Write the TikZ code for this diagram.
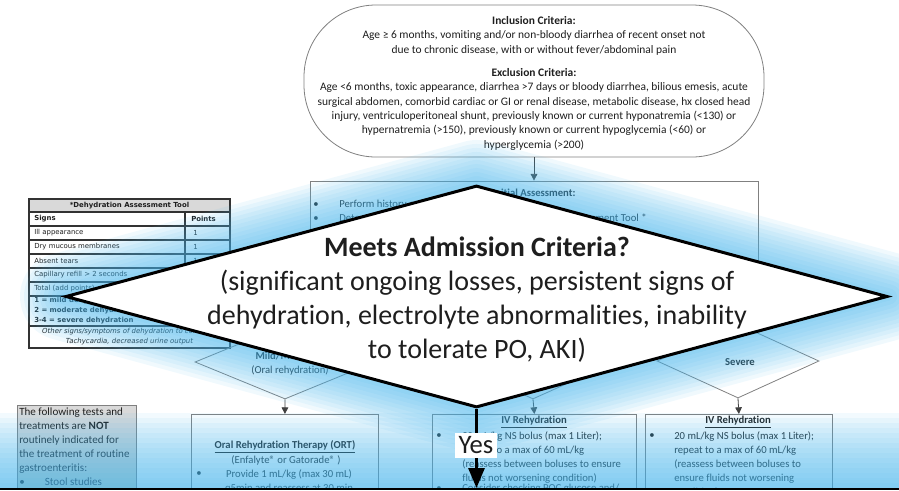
\documentclass[tikz,border=0pt]{standalone}
\usepackage{fontspec}
\setmainfont{Carlito}[Ligatures=NoCommon]
\newfontfamily\tabfont{DejaVu Sans}
\usetikzlibrary{arrows.meta,shapes.geometric}

\definecolor{glowblue}{RGB}{70,180,235}
\definecolor{ink}{RGB}{30,30,30}
\definecolor{edgegray}{RGB}{128,128,128}
\definecolor{conngray}{RGB}{64,64,64}
\definecolor{notegray}{RGB}{217,217,217}
\definecolor{tabline}{RGB}{50,50,50}

\pgfdeclarelayer{chart}
\pgfdeclarelayer{glow}
\pgfsetlayers{chart,glow,main}

\begin{document}
\begin{tikzpicture}[x=0.75pt,y=-0.75pt,
  every node/.style={inner sep=0pt, text=ink},
  box/.style={draw=edgegray, line width=0.6pt},
  choice/.style={shape=diamond, draw=edgegray, line width=0.6pt, shape aspect=2.4},
  small/.style={font=\fontsize{8}{10.5}\selectfont},
  crittxt/.style={font=\fontsize{8.6}{10.8}\selectfont},
  tabtxt/.style={font=\tabfont\fontsize{5.2}{7.5}\selectfont},
  flow/.style={draw=conngray, line width=0.6pt, -{Triangle[length=5pt,width=5pt]}},
  glowline/.style={glowblue, opacity=0.077, line join=round}
]
\useasboundingbox (0,0) rectangle (899,490);

% ---------------- flowchart underneath ----------------
\begin{pgfonlayer}{chart}
\begin{scope}
\clip (0,0) rectangle (899,488);

% inclusion / exclusion criteria
\node[box, rounded corners=54pt, minimum width=345pt, minimum height=114pt] (incl) at (534,81) {};
\node[crittxt, align=center, anchor=north] (inclText) at (534,16)
  {\textbf{Inclusion Criteria:}\\
   Age ≥ 6 months, vomiting and/or non-bloody diarrhea of recent onset not\\
   due to chronic disease, with or without fever/abdominal pain};
\node[crittxt, align=center, anchor=north] (exclText) at (534,68)
  {\textbf{Exclusion Criteria:}\\
   Age <6 months, toxic appearance, diarrhea >7 days or bloody diarrhea, bilious emesis, acute\\
   surgical abdomen, comorbid cardiac or GI or renal disease, metabolic disease, hx closed head\\
   injury, ventriculoperitoneal shunt, previously known or current hyponatremia (<130) or\\
   hypernatremia (>150), previously known or current hypoglycemia (<60) or\\
   hyperglycemia (>200)};

% initial assessment
\node[box, minimum width=336pt, minimum height=89.25pt] (init) at (534,240.5) {};
\node[small] (initTitle) at (534,193) {\textbf{Initial Assessment:}};
\node[small, anchor=west] (initB1) at (313,205) {•};
\node[small, anchor=west] (initL1) at (339,205) {Perform history and physical exam};
\node[small, anchor=west] (initB2) at (313,219) {•};
\node[small, anchor=west] (initL2) at (339,219) {Determine degree of dehydration using Dehydration Assessment Tool *};
\draw[flow] (incl.south) -- (init.north);

% dehydration assessment tool
\fill[notegray] (29,199) rectangle (230,212);
\draw[tabline, line width=0.8pt] (29,199) rectangle (230,348);
\foreach \yy in {212,226,240,254,268,282,296,326}
  \draw[tabline, line width=0.9pt] (29,\yy) -- (230,\yy);
\draw[tabline, line width=0.8pt] (185,212) -- (185,296);
\node[tabtxt] (tabHead) at (129.5,205.5) {\bfseries *Dehydration Assessment Tool};
\node[tabtxt, anchor=west] (tabSigns) at (34,219) {\bfseries Signs};
\node[tabtxt, anchor=west] (tabPoints) at (191,219) {\bfseries Points};
\node[tabtxt, anchor=west] (tabS1) at (34,233) {Ill appearance};
\node[tabtxt, anchor=west] (tabP1) at (193,233) {1};
\node[tabtxt, anchor=west] (tabS2) at (34,247) {Dry mucous membranes};
\node[tabtxt, anchor=west] (tabP2) at (193,247) {1};
\node[tabtxt, anchor=west] (tabS3) at (34,261) {Absent tears};
\node[tabtxt, anchor=west] (tabP3) at (193,261) {1};
\node[tabtxt, anchor=west] (tabS4) at (34,275) {Capillary refill > 2 seconds};
\node[tabtxt, anchor=west] (tabP4) at (193,275) {1};
\node[tabtxt, anchor=west] (tabTot) at (34,289) {Total (add points)};
\node[tabtxt, anchor=west, align=left] (tabScale) at (34,311)
  {\bfseries 1 = mild dehydration\\\bfseries 2 = moderate dehydration\\\bfseries 3-4 = severe dehydration};
\node[tabtxt, align=center] (tabOther) at (129.5,337)
  {\itshape Other signs/symptoms of dehydration to consider:\\\itshape Tachycardia, decreased urine output};

% severity decisions
\node[choice, minimum width=135pt, minimum height=55.5pt] (mild) at (285,362) {};
\node[choice, minimum width=123pt, minimum height=55.5pt] (mod) at (533,362) {};
\node[choice, minimum width=121.5pt, minimum height=55.5pt] (sev) at (738,361) {};
\node[small, align=center] (mildText) at (290,363.5) {\textbf{Mild/Moderate}\\(Oral rehydration)};
\node[small] (sevText) at (740,362) {\textbf{Severe}};
\draw[flow] (init.south) -| (mild.north);
\draw[flow] (init.south) -- (mod.north);
\draw[flow] (init.south) -| (sev.north);

% note on tests and treatments
\node[draw=edgegray, line width=0.6pt, fill=notegray, anchor=north west,
      minimum width=89.25pt, minimum height=90pt] (note) at (17,405) {};
\node[anchor=north west, align=left, font=\fontsize{8.3}{10.5}\selectfont] (noteText) at (19,408)
  {The following tests and\\
   treatments are \textbf{NOT}\\
   routinely indicated for\\
   the treatment of routine\\
   gastroenteritis:\\
   •\hspace{15pt}Stool studies};

% treatment boxes
\node[box, anchor=north west, minimum width=140.25pt, minimum height=90pt] (ort) at (191,414) {};
\node[box, anchor=north west, minimum width=153pt, minimum height=90pt] (ivMod) at (432,414) {};
\node[box, anchor=north west, minimum width=140.25pt, minimum height=90pt] (ivSev) at (645,414) {};
\draw[flow] (mild.south) -- (ort.north);
\draw[flow] (mod.south) -- (ivMod.north);
\draw[flow] (sev.south) -- (ivSev.north);

\node[small, align=center] (ortTitle) at (285,447)
  {\underline{\textbf{Oral Rehydration Therapy (ORT)}}};
\node[small] (ortSub) at (286,460) {(Enfalyte® or Gatorade® )};
\node[small] (ortB) at (199,474) {•};
\node[small, align=center, anchor=north] (ortText) at (289,469)
  {Provide 1 mL/kg (max 30 mL)\\q5min and reassess at 30 min};

\node[small] (ivModTitle) at (534,422) {\underline{\textbf{IV Rehydration}}};
\node[small] (ivModB) at (439,436) {•};
\node[small, align=left, anchor=north west] (ivModText) at (462,431)
  {20 mL/kg NS bolus (max 1 Liter);\\
   repeat to a max of 60 mL/kg\\
   (reassess between boluses to ensure\\
   fluids not worsening condition)};
\node[small] (ivModB2) at (439,489) {•};
\node[small, anchor=west] (ivModText2) at (462,489) {Consider checking POC glucose and/};

\node[small] (ivSevTitle) at (738,422) {\underline{\textbf{IV Rehydration}}};
\node[small] (ivSevB) at (652,436) {•};
\node[small, align=left, anchor=north west] (ivSevText) at (674,431)
  {20 mL/kg NS bolus (max 1 Liter);\\
   repeat to a max of 60 mL/kg\\
   (reassess between boluses to\\
   ensure fluids not worsening\\
   condition)};
\end{scope}
\end{pgfonlayer}

% ---------------- admission decision ----------------
\node[shape=diamond, draw=black, fill=white, line width=2.25pt,
      minimum width=616.5pt, minimum height=166.5pt] (crit) at (476.5,296.5) {};

\begin{pgfonlayer}{glow}
\foreach \w [evaluate=\w as \lw using \w*0.75] in {8,16,...,88}
  \draw[glowline, line width=\lw pt] (crit.north) -- (crit.east) -- (crit.south) -- (crit.west) -- cycle;
\foreach \i in {1,...,15}
  \fill[glowblue, opacity=0.07] (0,{488-5*\i}) rectangle (899,488);
\end{pgfonlayer}

\node[align=center, font=\fontsize{21}{25.5}\selectfont] (critText) at (477,300)
  {\textbf{Meets Admission Criteria?}\\
   (significant ongoing losses, persistent signs of\\
   dehydration, electrolyte abnormalities, inability\\
   to tolerate PO, AKI)};

\coordinate (yesEnd) at (476.5,488);
\draw[line width=2.25pt, -{Triangle[length=15pt,width=12pt]}] (crit.south) -- (yesEnd);
\node[fill=white, minimum width=31.5pt, minimum height=18.75pt,
      font=\fontsize{20}{24}\selectfont] (yes) at (476,445.5) {Yes};

% lower border
\fill[black] (0,488) rectangle (899,490);
\end{tikzpicture}
\end{document}
